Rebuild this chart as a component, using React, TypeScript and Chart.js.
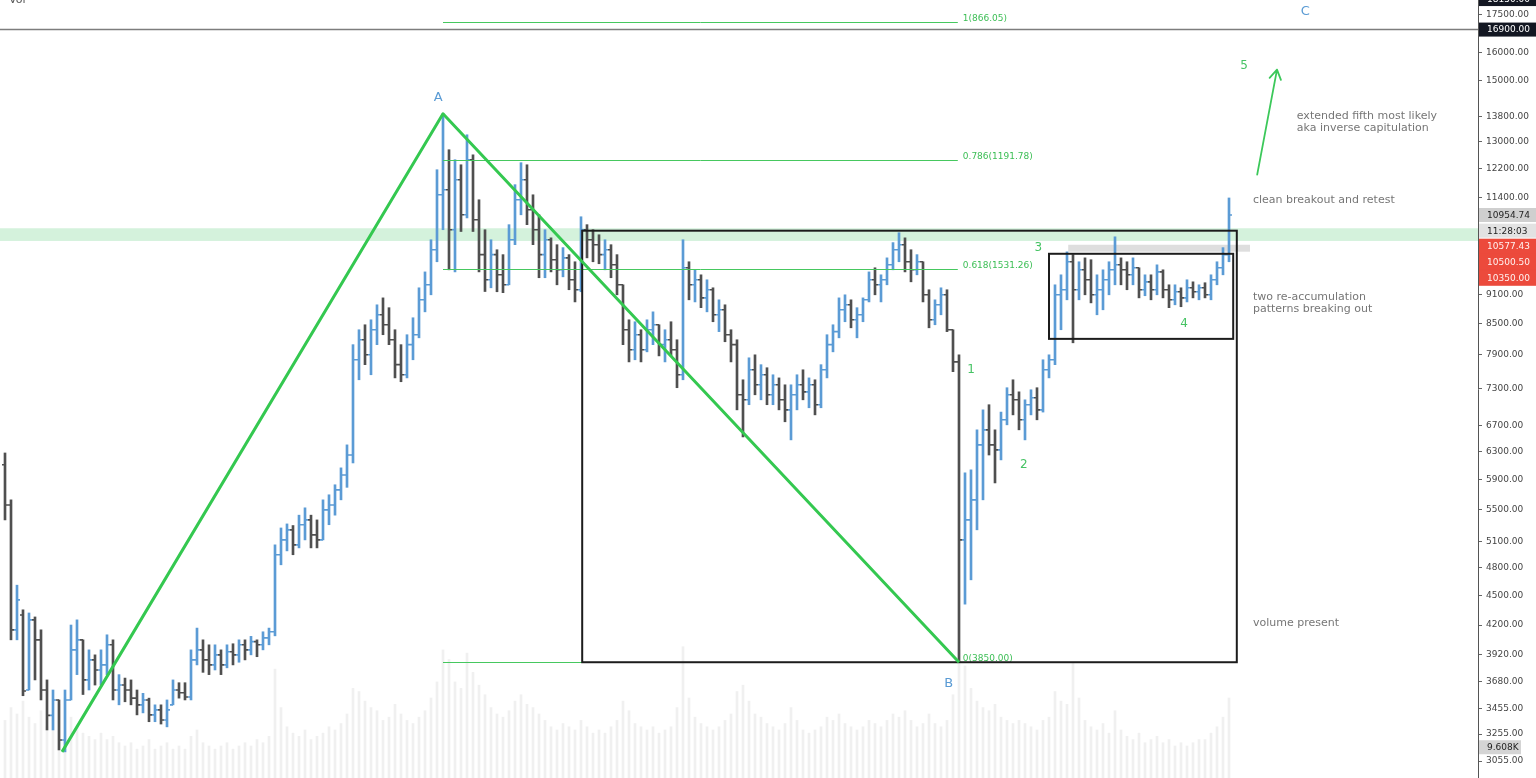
import { useEffect, useRef } from 'react';
import { Chart, registerables } from 'chart.js';

Chart.register(...registerables);

// Price bars, each [open, high, low, close], one bar per slot
const bars: [number, number, number, number][] = [
  [6110, 6280, 5370, 5560], [5560, 5628, 4057, 4153], [4153, 4610, 4057, 4454], [4300, 4352, 3560, 3600],
  [3608, 4320, 3608, 4251], [4251, 4280, 3694, 4057], [4057, 4153, 3525, 3608], [3608, 3694, 3286, 3400],
  [3400, 3608, 3286, 3525], [3525, 3525, 3136, 3210], [3210, 3608, 3122, 3525], [3525, 4200, 3525, 3963],
  [3963, 4251, 3740, 4057], [4057, 4057, 3570, 3694], [3694, 3963, 3608, 3871], [3871, 3917, 3650, 3781],
  [3781, 3963, 3650, 3826], [3826, 4105, 3740, 4010], [4010, 4057, 3525, 3608], [3608, 3740, 3485, 3650],
  [3650, 3710, 3510, 3608], [3608, 3694, 3485, 3540], [3540, 3608, 3404, 3485], [3485, 3580, 3420, 3525],
  [3525, 3540, 3350, 3404], [3404, 3485, 3350, 3444], [3444, 3485, 3332, 3364], [3364, 3525, 3310, 3444],
  [3485, 3694, 3485, 3608], [3608, 3670, 3540, 3585], [3585, 3670, 3525, 3550], [3550, 3963, 3525, 3871],
  [3871, 4170, 3826, 3963], [3963, 4057, 3760, 3871], [3871, 4010, 3740, 3826], [3826, 4010, 3781, 3917],
  [3917, 3963, 3740, 3826], [3826, 4010, 3800, 3945], [3945, 4020, 3826, 3917], [3917, 4057, 3850, 4010],
  [4010, 4057, 3871, 3963], [3963, 4090, 3917, 4040], [4040, 4057, 3900, 4010], [4010, 4134, 3963, 4076],
  [4076, 4170, 4010, 4134], [4134, 5066, 4095, 4950], [4950, 5270, 4835, 5125], [5125, 5320, 4995, 5247],
  [5247, 5300, 4950, 5066], [5066, 5430, 5030, 5310], [5310, 5524, 5125, 5370], [5370, 5430, 5030, 5185],
  [5185, 5370, 5030, 5125], [5125, 5628, 5125, 5497], [5497, 5695, 5310, 5560], [5560, 5830, 5430, 5761],
  [5761, 6065, 5628, 5965], [5965, 6400, 5795, 6250], [6250, 8090, 6135, 7809], [7809, 8377, 7452, 8183],
  [8183, 8475, 7720, 7900], [7900, 8574, 7540, 8377], [8377, 8880, 8090, 8675], [8675, 9025, 8280, 8475],
  [8475, 8820, 8090, 8183], [8183, 8377, 7485, 7720], [7720, 8090, 7418, 7540], [7540, 8280, 7485, 8090],
  [8090, 8615, 7809, 8280], [8280, 9240, 8220, 8984], [8984, 9590, 8735, 9305], [9305, 10339, 9090, 10100],
  [10100, 12178, 9820, 11485], [11485, 13880, 10584, 11621], [11621, 12761, 9637, 10584], [10584, 12466, 9590, 11897],
  [11897, 12320, 10540, 10960], [10960, 13215, 10880, 12466], [12466, 12610, 10540, 10834], [10834, 11352, 9590, 9985],
  [9985, 10584, 9160, 9415], [9415, 10339, 9240, 9985], [9985, 10100, 9155, 9525], [9525, 9985, 9135, 9305],
  [9305, 10710, 9305, 10339], [10339, 11760, 10220, 11352], [11352, 12380, 10960, 11897], [11897, 12320, 10710, 11090],
  [11090, 11485, 10220, 10584], [10584, 10960, 9460, 9985], [9985, 10584, 9460, 10339], [10339, 10385, 9590, 9867],
  [9867, 10220, 9305, 9637], [9637, 10150, 9480, 9910], [9910, 9985, 9198, 9415], [9415, 9820, 8940, 9198],
  [9198, 10910, 9155, 10584], [10584, 10710, 9910, 10339], [10339, 10584, 9820, 10220], [10220, 10460, 9775, 9985],
  [9985, 10339, 9637, 10100], [10100, 10220, 9460, 9750], [9750, 9985, 9090, 9305], [9305, 9305, 8090, 8377],
  [8377, 8574, 7770, 7994], [7994, 8535, 7809, 8280], [8280, 8377, 7770, 7994], [7994, 8574, 7955, 8377],
  [8377, 8735, 8090, 8475], [8475, 8475, 7880, 8090], [8090, 8377, 7770, 8183], [8183, 8535, 7880, 7994],
  [7994, 8183, 7315, 7540], [7540, 10339, 7452, 9683], [9683, 9820, 8984, 9305], [9305, 9637, 8940, 9415],
  [9415, 9525, 8820, 9025], [9025, 9415, 8735, 9198], [9198, 9240, 8535, 8675], [8675, 8984, 8340, 8777],
  [8777, 8880, 8145, 8280], [8280, 8377, 7770, 8090], [8090, 8183, 6946, 7195], [7195, 7452, 6520, 7111],
  [7111, 7845, 7030, 7628], [7628, 7900, 7195, 7365], [7365, 7720, 7111, 7540], [7540, 7665, 7030, 7195],
  [7195, 7540, 7030, 7365], [7365, 7485, 6946, 7111], [7111, 7365, 6755, 6946], [6946, 7365, 6475, 7195],
  [7195, 7540, 6946, 7365], [7365, 7628, 7111, 7245], [7245, 7485, 6980, 7365], [7365, 7452, 6865, 7030],
  [7030, 7720, 6980, 7628], [7628, 8280, 7485, 8090], [8090, 8475, 7955, 8340], [8340, 9025, 8220, 8777],
  [8777, 9090, 8535, 8880], [8880, 8984, 8415, 8574], [8574, 8820, 8220, 8675], [8675, 9025, 8535, 8984],
  [8984, 9590, 8940, 9415], [9415, 9683, 9090, 9305], [9305, 9525, 8940, 9415], [9415, 9910, 9305, 9750],
  [9750, 10270, 9637, 10100], [10100, 10510, 9820, 10220], [10220, 10385, 9590, 9820], [9820, 10100, 9370, 9637],
  [9637, 9985, 9525, 9820], [9820, 9820, 8940, 9090], [9090, 9198, 8415, 8574], [8574, 8984, 8475, 8880],
  [8880, 9240, 8675, 9090], [9090, 9198, 8340, 8377], [8377, 8377, 7595, 7770], [7770, 7900, 3850, 5125],
  [5125, 5995, 4410, 5370], [5370, 6037, 4668, 5628], [5628, 6629, 5247, 6400], [6400, 6946, 5628, 6629],
  [6629, 7030, 6250, 6400], [6400, 6629, 5855, 6326], [6326, 6910, 6179, 6786], [6786, 7315, 6707, 7195],
  [7195, 7452, 6865, 7111], [7111, 7245, 6629, 6786], [6786, 7111, 6475, 7030], [7030, 7280, 6865, 7145],
  [7145, 7315, 6786, 6946], [6946, 7809, 6910, 7628], [7628, 7900, 7485, 7809], [7809, 9305, 7720, 9090],
  [9090, 9525, 8377, 9198], [9198, 10050, 8984, 9820], [9820, 9985, 8125, 9198], [9198, 9820, 8984, 9637],
  [9637, 9910, 9090, 9415], [9415, 9867, 8920, 9090], [9090, 9525, 8675, 9198], [9198, 9637, 8777, 9415],
  [9415, 9820, 9090, 9637], [9637, 10410, 9305, 9750], [9750, 9910, 9305, 9637], [9637, 9820, 9198, 9525],
  [9525, 9910, 9305, 9683], [9683, 9683, 9025, 9198], [9198, 9525, 9070, 9370], [9370, 9525, 8984, 9198],
  [9198, 9750, 9090, 9590], [9590, 9637, 9025, 9198], [9198, 9305, 8820, 8984], [8984, 9305, 8880, 9155],
  [9155, 9240, 8840, 9025], [9025, 9415, 8940, 9240], [9240, 9370, 9025, 9155], [9155, 9305, 8984, 9240],
  [9240, 9350, 9025, 9090], [9090, 9525, 8984, 9415], [9415, 9820, 9305, 9683], [9683, 10150, 9525, 9985],
  [9985, 11400, 9820, 10955],
];

// Volume per bar, in thousands
const volumes: number[] = [
  18, 22, 20, 24, 19, 17, 21, 16, 18, 23,
  25, 19, 16, 14, 13, 12, 14, 12, 13, 11,
  10, 11, 9, 10, 12, 9, 10, 11, 9, 10,
  9, 13, 15, 11, 10, 9, 10, 11, 9, 10,
  11, 10, 12, 11, 13, 34, 22, 16, 14, 13,
  15, 12, 13, 14, 16, 15, 17, 20, 28, 27,
  24, 22, 21, 18, 19, 23, 20, 18, 17, 19,
  21, 25, 30, 40, 37, 30, 28, 39, 33, 29,
  26, 22, 20, 19, 21, 24, 26, 23, 22, 20,
  18, 16, 15, 17, 16, 15, 18, 16, 14, 15,
  14, 16, 18, 24, 21, 17, 16, 15, 16, 14,
  15, 16, 22, 41, 25, 19, 17, 16, 15, 16,
  18, 20, 27, 29, 24, 20, 19, 17, 16, 15,
  17, 22, 18, 15, 14, 15, 16, 19, 18, 20,
  17, 16, 15, 16, 18, 17, 16, 18, 20, 19,
  21, 18, 16, 17, 20, 17, 16, 18, 26, 40,
  35, 28, 24, 22, 21, 23, 19, 18, 17, 18,
  17, 16, 15, 18, 19, 27, 24, 23, 36, 25,
  18, 16, 15, 17, 14, 21, 15, 13, 12, 14,
  11, 12, 13, 11, 12, 10, 11, 10, 11, 12,
  12, 14, 16, 19, 25,
];

// Price axis tick values
const priceTicks = [
  3055, 3255, 3455, 3680, 3920, 4200, 4500, 4800, 5100, 5500, 5900, 6300, 6700,
  7300, 7900, 8500, 9100, 11400, 12200, 13000, 13800, 15000, 16000, 17500,
];

// ABC swing: start low, A, B
const swingPath = [
  { x: 9.5, price: 3122 },
  { x: 73, price: 13880 },
  { x: 159, price: 3850 },
];
const swingLetters = [
  { text: 'A', x: 72.2, price: 14413 },
  { text: 'B', x: 157.3, price: 3660 },
  { text: 'C', x: 216.7, price: 17623 },
];

// Fibonacci retracement levels drawn between A and B
const fibStart = 73;
const fibEnd = 158.8;
const fibLevels = [
  { text: '1(866.05)', price: 17216 },
  { text: '0.786(1191.78)', price: 12466 },
  { text: '0.618(1531.26)', price: 9660 },
  { text: '0(3850.00)', price: 3850 },
];

// Elliott wave counts
const waveCounts = [
  { text: '1', x: 161, price: 7628 },
  { text: '2', x: 169.8, price: 6108 },
  { text: '3', x: 172.2, price: 10147 },
  { text: '4', x: 196.5, price: 8494 },
  { text: '5', x: 206.5, price: 15525 },
];

// Range boxes
const boxes = [
  { x0: 96.2, x1: 205.3, top: 10560, bottom: 3850 },
  { x0: 174, x1: 204.7, top: 10005, bottom: 8200 },
];

// Shaded horizontal zones (null x = full width)
const zones = [
  { x0: null, x1: null, top: 10620, bottom: 10310, color: 'rgba(120, 215, 145, 0.32)' },
  { x0: 177.2, x1: 207.5, top: 10218, bottom: 10054, color: 'rgba(195, 195, 195, 0.55)' },
];

// Projection arrow
const arrowFrom = { x: 208.7, price: 12037 };
const arrowTo = { x: 212, price: 15388 };

// Side notes
const notes = [
  { lines: ['extended fifth most likely', 'aka inverse capitulation'], x: 215.3, price: 13800 },
  { lines: ['clean breakout and retest'], x: 208, price: 11352 },
  { lines: ['two re-accumulation', 'patterns breaking out'], x: 208, price: 9035 },
  { lines: ['volume present'], x: 208, price: 4220 },
];

// Horizontal level and axis tags
const levelPrice = 16900;
const upperTagPrice = 18150;
const lastPrice = 10954.74;
const countdown = '11:28:03';
const alertPrices = [10577.43, 10500.5, 10350.0];
const lastVolume = 9.608;

const UP = '#5b9bd5';
const DOWN = '#4f4f4f';
const GREEN = 'rgb(52, 200, 80)';
const FIB_GREEN = 'rgb(70, 200, 95)';
const FONT = "'DejaVu Sans', Verdana, sans-serif";

const overlayPlugin = {
  id: 'overlay',
  beforeDatasetsDraw(chart: any) {
    const { ctx, chartArea: a, scales } = chart;
    const X = (v: number) => scales.x.getPixelForValue(v);
    const Y = (p: number) => scales.y.getPixelForValue(p);
    ctx.save();
    for (const z of zones) {
      const x0 = z.x0 == null ? a.left : X(z.x0);
      const x1 = z.x1 == null ? a.right : X(z.x1);
      ctx.fillStyle = z.color;
      ctx.fillRect(x0, Y(z.top), x1 - x0, Y(z.bottom) - Y(z.top));
    }
    ctx.restore();
  },
  afterDatasetsDraw(chart: any) {
    const { ctx, chartArea: a, scales } = chart;
    const X = (v: number) => scales.x.getPixelForValue(v);
    const Y = (p: number) => scales.y.getPixelForValue(p);
    const V = (v: number) => scales.yv.getPixelForValue(v);
    ctx.save();

    // open / close ticks of the OHLC bars
    ctx.lineWidth = 1.6;
    bars.forEach(([o, , , c], i) => {
      const x = X(i);
      ctx.strokeStyle = c >= o ? UP : DOWN;
      ctx.beginPath();
      ctx.moveTo(x - 3, Y(o));
      ctx.lineTo(x, Y(o));
      ctx.moveTo(x, Y(c));
      ctx.lineTo(x + 3, Y(c));
      ctx.stroke();
    });

    // level line
    ctx.strokeStyle = '#7d7d7d';
    ctx.lineWidth = 1.5;
    ctx.beginPath();
    ctx.moveTo(a.left, Y(levelPrice));
    ctx.lineTo(a.right, Y(levelPrice));
    ctx.stroke();

    // fib levels
    ctx.strokeStyle = FIB_GREEN;
    ctx.lineWidth = 1;
    ctx.font = `9px ${FONT}`;
    ctx.fillStyle = 'rgb(60, 190, 85)';
    ctx.textAlign = 'left';
    ctx.textBaseline = 'alphabetic';
    for (const f of fibLevels) {
      const y = Math.round(Y(f.price)) + 0.5;
      ctx.beginPath();
      ctx.moveTo(X(fibStart), y);
      ctx.lineTo(X(fibEnd), y);
      ctx.stroke();
      ctx.fillText(f.text, X(fibEnd) + 5, y - 2);
    }

    // boxes
    ctx.strokeStyle = '#1c1c1c';
    ctx.lineWidth = 2;
    for (const b of boxes) {
      ctx.strokeRect(X(b.x0), Y(b.top), X(b.x1) - X(b.x0), Y(b.bottom) - Y(b.top));
    }

    // ABC swing
    ctx.strokeStyle = GREEN;
    ctx.lineWidth = 3;
    ctx.lineJoin = 'round';
    ctx.beginPath();
    swingPath.forEach((p, i) => (i === 0 ? ctx.moveTo(X(p.x), Y(p.price)) : ctx.lineTo(X(p.x), Y(p.price))));
    ctx.stroke();

    ctx.font = `13px ${FONT}`;
    ctx.fillStyle = '#5a9bd4';
    ctx.textAlign = 'center';
    ctx.textBaseline = 'middle';
    for (const l of swingLetters) ctx.fillText(l.text, X(l.x), Y(l.price));

    // wave counts
    ctx.font = `12px ${FONT}`;
    ctx.fillStyle = 'rgb(70, 195, 100)';
    for (const w of waveCounts) ctx.fillText(w.text, X(w.x), Y(w.price));

    // arrow
    const ax0 = X(arrowFrom.x), ay0 = Y(arrowFrom.price);
    const ax1 = X(arrowTo.x), ay1 = Y(arrowTo.price);
    const ang = Math.atan2(ay1 - ay0, ax1 - ax0);
    ctx.strokeStyle = 'rgb(60, 200, 90)';
    ctx.lineWidth = 1.8;
    ctx.lineCap = 'round';
    ctx.beginPath();
    ctx.moveTo(ax0, ay0);
    ctx.lineTo(ax1, ay1);
    ctx.moveTo(ax1 + 11 * Math.cos(ang + Math.PI - 0.55), ay1 + 11 * Math.sin(ang + Math.PI - 0.55));
    ctx.lineTo(ax1, ay1);
    ctx.lineTo(ax1 + 11 * Math.cos(ang + Math.PI + 0.55), ay1 + 11 * Math.sin(ang + Math.PI + 0.55));
    ctx.stroke();

    // notes
    ctx.font = `11px ${FONT}`;
    ctx.fillStyle = '#767676';
    ctx.textAlign = 'left';
    for (const n of notes) {
      n.lines.forEach((line, k) => ctx.fillText(line, X(n.x), Y(n.price) + k * 12));
    }

    // indicator title
    ctx.font = `11px ${FONT}`;
    ctx.fillStyle = '#555';
    ctx.textBaseline = 'alphabetic';
    ctx.fillText('Vol', 9, 3);

    // axis tags
    const tag = (y: number, text: string, bg: string, fg: string, w = 57) => {
      ctx.fillStyle = bg;
      ctx.fillRect(a.right + 1, y - 7, w, 14);
      ctx.fillStyle = fg;
      ctx.font = `9px ${FONT}`;
      ctx.textAlign = 'left';
      ctx.textBaseline = 'middle';
      ctx.fillText(text, a.right + 9, y + 0.5);
    };
    tag(Y(upperTagPrice), upperTagPrice.toFixed(2), '#131722', '#ffffff');
    tag(Y(levelPrice), levelPrice.toFixed(2), '#131722', '#ffffff');
    const yLast = Y(lastPrice);
    tag(yLast, lastPrice.toFixed(2), '#cfcfcf', '#1e1e1e');
    tag(yLast + 15.7, countdown, '#e2e2e2', '#1e1e1e');
    ctx.fillStyle = '#ec4a3c';
    ctx.fillRect(a.right + 1, yLast + 15.7 + 8, 57, alertPrices.length * 15.7);
    alertPrices.forEach((p, k) => tag(yLast + 15.7 * (k + 2), p.toFixed(2), '#ec4a3c', '#fff2f0'));
    tag(V(lastVolume), `${lastVolume.toFixed(3)}K`, '#d4d4d4', '#1e1e1e', 42);

    ctx.restore();
  },
};

export default function App() {
  const ref = useRef<HTMLCanvasElement>(null);
  useEffect(() => {
    const chart = new Chart(ref.current as HTMLCanvasElement, {
      type: 'bar',
      data: {
        datasets: [
          {
            type: 'bar',
            label: 'Volume',
            data: volumes.map((v, i) => ({ x: i, y: v })),
            xAxisID: 'x',
            yAxisID: 'yv',
            backgroundColor: 'rgba(205, 205, 205, 0.3)',
            barThickness: 2,
            grouped: false,
            order: 2,
          } as any,
          {
            type: 'bar',
            label: 'Price',
            data: bars.map(([, h, l], i) => ({ x: i, y: [l, h] })),
            xAxisID: 'x',
            yAxisID: 'y',
            backgroundColor: bars.map(([o, , , c]) => (c >= o ? UP : DOWN)),
            barThickness: 2,
            grouped: false,
            order: 1,
          } as any,
        ],
      },
      options: {
        animation: false,
        responsive: true,
        maintainAspectRatio: false,
        devicePixelRatio: 1,
        events: [],
        layout: { padding: 0 },
        plugins: { legend: { display: false }, tooltip: { enabled: false } },
        scales: {
          x: {
            type: 'linear',
            display: false,
            offset: false,
            grace: 0,
            bounds: 'data',
            min: -5 / 6,
            max: -5 / 6 + 1478 / 6,
          },
          y: {
            type: 'logarithmic',
            position: 'right',
            min: 2937,
            max: 18110,
            afterBuildTicks: (s: any) => {
              s.ticks = priceTicks.map((v) => ({ value: v }));
            },
            afterFit: (s: any) => {
              s.width = 58;
              s.paddingTop = 0;
              s.paddingBottom = 0;
            },
            ticks: {
              autoSkip: false,
              padding: 4,
              color: '#444',
              font: { family: FONT, size: 9 },
              callback: (v: any) => Number(v).toFixed(2),
            },
            grid: { drawOnChartArea: false, tickLength: 4, color: '#666' },
            border: { color: '#555', width: 1 },
          },
          yv: { type: 'linear', display: false, min: 0, max: 243 },
        },
      } as any,
      plugins: [overlayPlugin],
    });
    return () => chart.destroy();
  }, []);
  return (
    <div style={{ position: 'fixed', left: 0, top: 0, width: 1536, height: 778, background: '#ffffff' }}>
      <canvas ref={ref} />
    </div>
  );
}
